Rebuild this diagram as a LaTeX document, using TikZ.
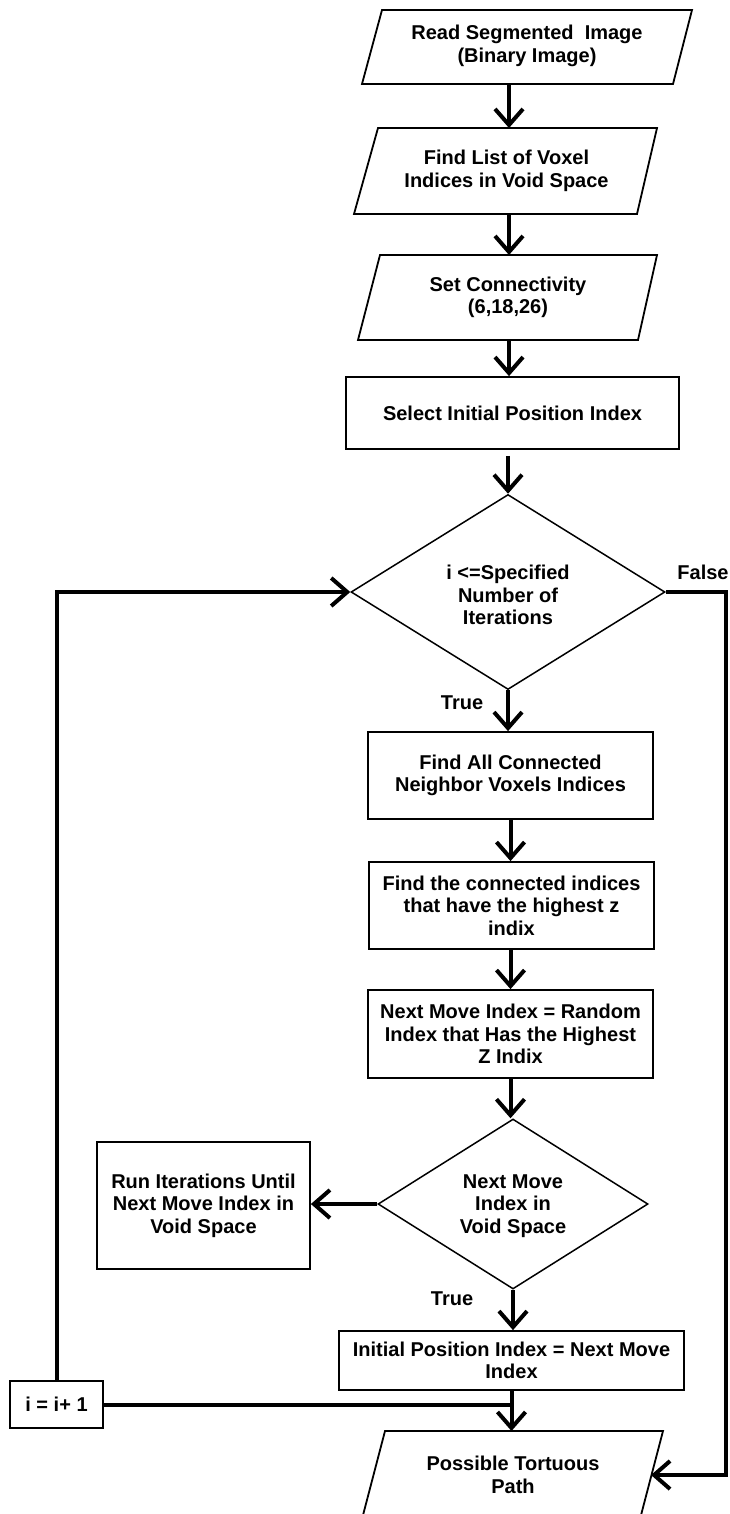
\documentclass[tikz,border=0pt]{standalone}
\usepackage{fontspec}
\setmainfont{Liberation Sans}
\usetikzlibrary{arrows.meta,shapes.geometric}
\begin{document}
\begin{tikzpicture}[x=1pt,y=-1pt,
  txt/.style={font=\fontsize{20}{22.5}\selectfont\bfseries, align=center, inner sep=0pt},
  box/.style={draw, line width=1.8pt},
  rbox/.style={box, txt, rectangle},
  dia/.style={draw, line width=1.5pt, diamond, aspect=1.6, txt},
  flow/.style={line width=4pt, -{Straight Barb[length=16pt,width=28pt]}},
  plain/.style={line width=4pt},
]
\clip (0,0) rectangle (730,1514);

% parallelograms (input / output)
\draw[box] (382,10) -- (692,10) -- (673,84) -- (362,84) -- cycle;
\node[txt] (p1) at (527,46) {Read Segmented\ \ Image\\(Binary Image)};
\coordinate (p1b) at (509,84);

\draw[box] (378,128) -- (657,128) -- (637,214) -- (354,214) -- cycle;
\node[txt] (p2) at (506.5,171) {Find List of Voxel\\Indices in Void Space};
\coordinate (p2t) at (509,128);
\coordinate (p2b) at (509,214);

\draw[box] (380,255) -- (657,255) -- (638,340) -- (358,340) -- cycle;
\node[txt] (p3) at (508,297.5) {Set Connectivity\\(6,18,26)};
\coordinate (p3t) at (509,255);
\coordinate (p3b) at (509,340);

\node[rbox, minimum width=333pt, minimum height=72pt] (r1) at (512.5,413) {Select Initial Position Index};

\node[dia, minimum width=314pt, minimum height=195pt] (d1) at (508,592) {};
\node[txt] (d1t) at (508,595) {i <=Specified\\Number of\\Iterations};
\node[txt] (t1) at (462,703) {True};
\node[txt] (f1) at (703,572) {False};

\node[rbox, minimum width=285pt, minimum height=87pt] (r2) at (510.5,775.5) {Find All Connected\\Neighbor Voxels Indices};
\node[rbox, minimum width=285pt, minimum height=87pt] (r3) at (511.5,905.5) {Find the connected indices\\that have the highest z\\indix};
\node[rbox, minimum width=285pt, minimum height=88pt] (r4) at (510.5,1034) {Next Move Index = Random\\Index that Has the Highest\\Z Indix};

\node[dia, minimum width=270pt, minimum height=170pt] (d2) at (513,1204) {};
\node[txt] (d2t) at (513,1206) {Next Move\\Index in\\Void Space};
\node[rbox, minimum width=213pt, minimum height=127pt] (run) at (203.5,1205.5) {Run Iterations Until\\Next Move Index in\\Void Space};
\node[txt] (t2) at (452,1299) {True};

\node[rbox, minimum width=345pt, minimum height=59pt] (r5) at (511.5,1360.5) {Initial Position Index = Next Move\\Index};
\node[rbox, minimum width=93pt, minimum height=47pt] (ibox) at (56.5,1404.5) {i = i+ 1};

\draw[box] (385,1431) -- (663,1431) -- (640,1519) -- (362,1519) -- cycle;
\node[txt] (p4) at (513,1475) {Possible Tortuous\\Path};
\coordinate (p4t) at (511.5,1431);
\coordinate (p4r) at (651,1475);
\coordinate (fr) at (726,0);

% connectors
\draw[flow] (p1b) -- (p2t);
\draw[flow] (p2b) -- (p3t);
\draw[flow] (p3b) -- (p3b |- r1.north);
\draw[flow, shorten <=6pt] (r1.south -| d1.north) -- (d1.north);
\draw[flow] (d1.south) -- (d1.south |- r2.north);
\draw[flow] (r2.south) -- (r2.south |- r3.north);
\draw[flow] (r3.south -| r2.south) -- (r2.south |- r4.north);
\draw[flow] (r4.south) -- (r4.south |- d2.north);
\draw[flow] (d2.west) -- (d2.west -| run.east);
\draw[flow] (d2.south) -- (d2.south |- r5.north);
\draw[flow] (r5.south) -- (p4t);
\draw[plain] (ibox.east) -- (ibox.east -| r5.south);
\draw[flow] (ibox.north) |- (d1.west);
\draw[flow] (d1.east) -- (d1.east -| fr) -- (fr |- p4r) -- (p4r);
\end{tikzpicture}
\end{document}
